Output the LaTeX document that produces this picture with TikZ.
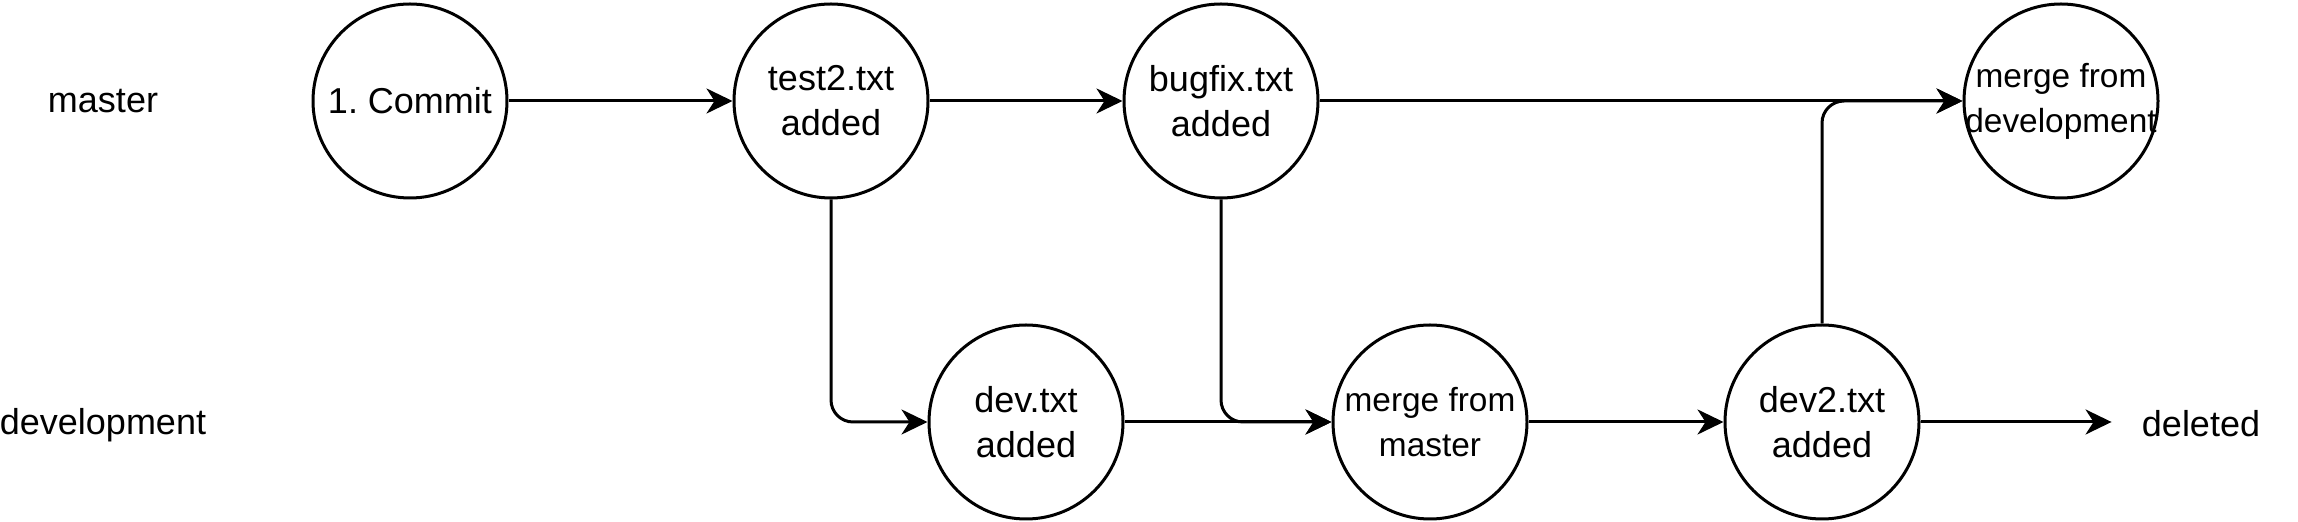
\documentclass[tikz,border=0pt]{standalone}
\usepackage{fontspec}
\setmainfont{Liberation Sans}
\usetikzlibrary{arrows.meta}
\begin{document}
\frenchspacing
\begin{tikzpicture}[x=0.5pt,y=-0.5pt,
  commit/.style={circle, draw, line width=1.5pt, minimum size=97pt, inner sep=0pt, align=center, font=\fontsize{18}{22.5}\selectfont},
  mergec/.style={commit, font=\fontsize{16.7}{22.5}\selectfont},
  lbl/.style={font=\fontsize{18}{21}\selectfont, inner sep=0pt},
  conn/.style={line width=1.5pt, -{Stealth[length=13pt,width=12.5pt,inset=4pt]}, rounded corners=11pt}]
\useasboundingbox (0,0) rectangle (2298,522);
\node[lbl] (lmaster) at (103,101) {master};
\node[lbl] (ldev) at (103,425) {development};
\node[commit] (c1) at (410,101) {1. Commit};
\node[commit] (t2) at (831,101) {test2.txt\\added};
\node[commit] (bf) at (1221,101) {bugfix.txt\\added};
\node[mergec] (md) at (2061,101) {\makebox[0pt]{merge from}\\\makebox[0pt]{development}};
\node[commit] (dv) at (1026,422) {dev.txt\\added};
\node[mergec] (mm) at (1430,422) {merge from\\master};
\node[commit] (d2) at (1822,422) {dev2.txt\\added};
\node[lbl, inner sep=15pt] (del) at (2201,424) {deleted};
\draw[conn] (c1) -- (t2);
\draw[conn] (t2) -- (bf);
\draw[conn] (bf) -- (md);
\draw[conn] (t2.south) |- (dv.west);
\draw[conn] (dv) -- (mm);
\draw[conn] (bf.south) |- (mm.west);
\draw[conn] (mm) -- (d2);
\draw[conn] (d2.north) |- (md.west);
\draw[conn] (d2.east) -- (d2.east -| del.west);
\end{tikzpicture}
\end{document}
